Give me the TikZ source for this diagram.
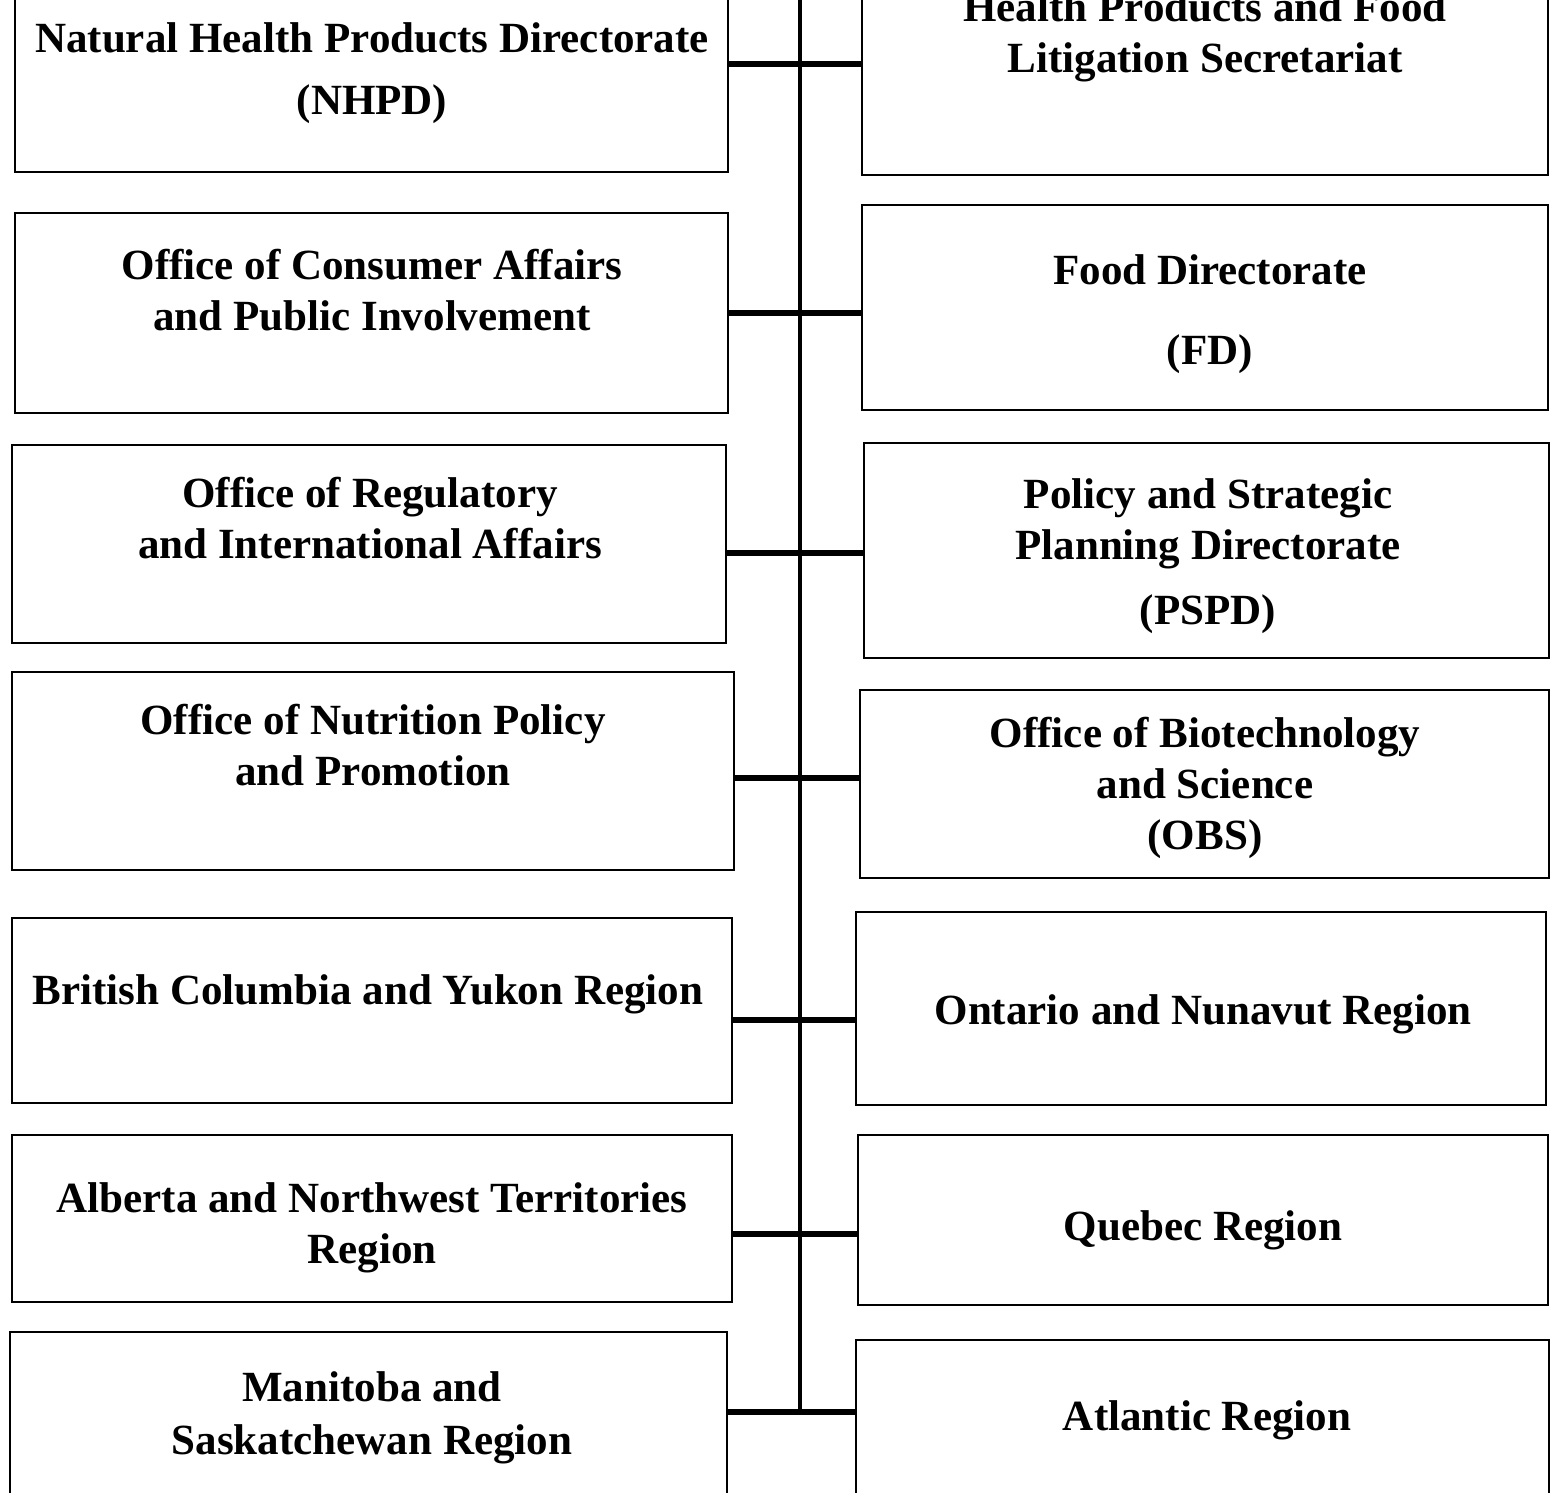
\documentclass[tikz,border=0pt]{standalone}
\usepackage{fontspec}
\setmainfont{Liberation Serif}
\usetikzlibrary{fit,calc}
\tikzset{
    unitbox/.style={
        draw, line width=1.6pt, inner sep=0pt
    },
    unitname/.style={
        font=\fontsize{24.5}{29}\selectfont\bfseries,
        align=center, inner sep=0pt
    },
    link/.style={
        line width=3.4pt
    },
    trunk/.style={
        line width=2.4pt
    }
}

\begin{document}
\begin{tikzpicture}[x=0.02cm, y=-0.02cm]
    \useasboundingbox (0,0) rectangle (1551,1493);

    % left column
    \node[unitbox, fit={(15,-40) (728,172)}] (nhpd) {};
    \node[unitname] at (372,73) {Natural Health Products Directorate\\[0.22cm] (NHPD)};
    \node[unitbox, fit={(15,213) (728,413)}] (consumer) {};
    \node[unitname] at (372,290) {Office of Consumer Affairs\\ and Public Involvement};
    \node[unitbox, fit={(12,445) (726,643)}] (regulatory) {};
    \node[unitname] at (370,518) {Office of Regulatory\\ and International Affairs};
    \node[unitbox, fit={(12,672) (734,870)}] (nutrition) {};
    \node[unitname] at (373,745) {Office of Nutrition Policy\\ and Promotion};
    \node[unitbox, fit={(12,918) (732,1103)}] (bcyukon) {};
    \node[unitname] at (368,994) {British Columbia and Yukon Region};
    \node[unitbox, fit={(12,1135) (732,1302)}] (alberta) {};
    \node[unitname] at (372,1228) {Alberta and Northwest Territories\\ Region};
    \node[unitbox, fit={(10,1332) (727,1540)}] (manitoba) {};
    \node[unitname] at (372,1418) {Manitoba and\\[0.05cm] Saskatchewan Region};

    % right column
    \node[unitbox, fit={(862,-40) (1548,175)}] (litigation) {};
    \node[unitname] at (1205,37) {Health Products and Food\\ Litigation Secretariat};
    \node[unitbox, fit={(862,205) (1548,410)}] (food) {};
    \node[unitname] at (1210,314) {Food Directorate\\[0.58cm] (FD)};
    \node[unitbox, fit={(864,443) (1549,658)}] (pspd) {};
    \node[unitname] at (1208,556) {Policy and Strategic\\ Planning Directorate\\[0.28cm] (PSPD)};
    \node[unitbox, fit={(860,690) (1549,878)}] (obs) {};
    \node[unitname] at (1205,788) {Office of Biotechnology\\ and Science\\ (OBS)};
    \node[unitbox, fit={(856,912) (1546,1105)}] (ontario) {};
    \node[unitname] at (1203,1014) {Ontario and Nunavut Region};
    \node[unitbox, fit={(858,1135) (1548,1305)}] (quebec) {};
    \node[unitname] at (1203,1230) {Quebec Region};
    \node[unitbox, fit={(856,1340) (1549,1540)}] (atlantic) {};
    \node[unitname] at (1207,1420) {Atlantic Region};

    % trunk and branches
    \coordinate (top) at (800,-40);
    \coordinate (j1) at (800,64);
    \coordinate (j2) at (800,313);
    \coordinate (j3) at (800,553);
    \coordinate (j4) at (800,778);
    \coordinate (j5) at (800,1020);
    \coordinate (j6) at (800,1234);
    \coordinate (j7) at (800,1412);
    \draw[trunk] (top) -- (j7);

    \foreach \l/\r/\j in {nhpd/litigation/1, consumer/food/2, regulatory/pspd/3,
        nutrition/obs/4, bcyukon/ontario/5, alberta/quebec/6, manitoba/atlantic/7}
      \draw[link] (\l.east |- j\j) -- (j\j) -- (\r.west |- j\j);
\end{tikzpicture}
\end{document}
